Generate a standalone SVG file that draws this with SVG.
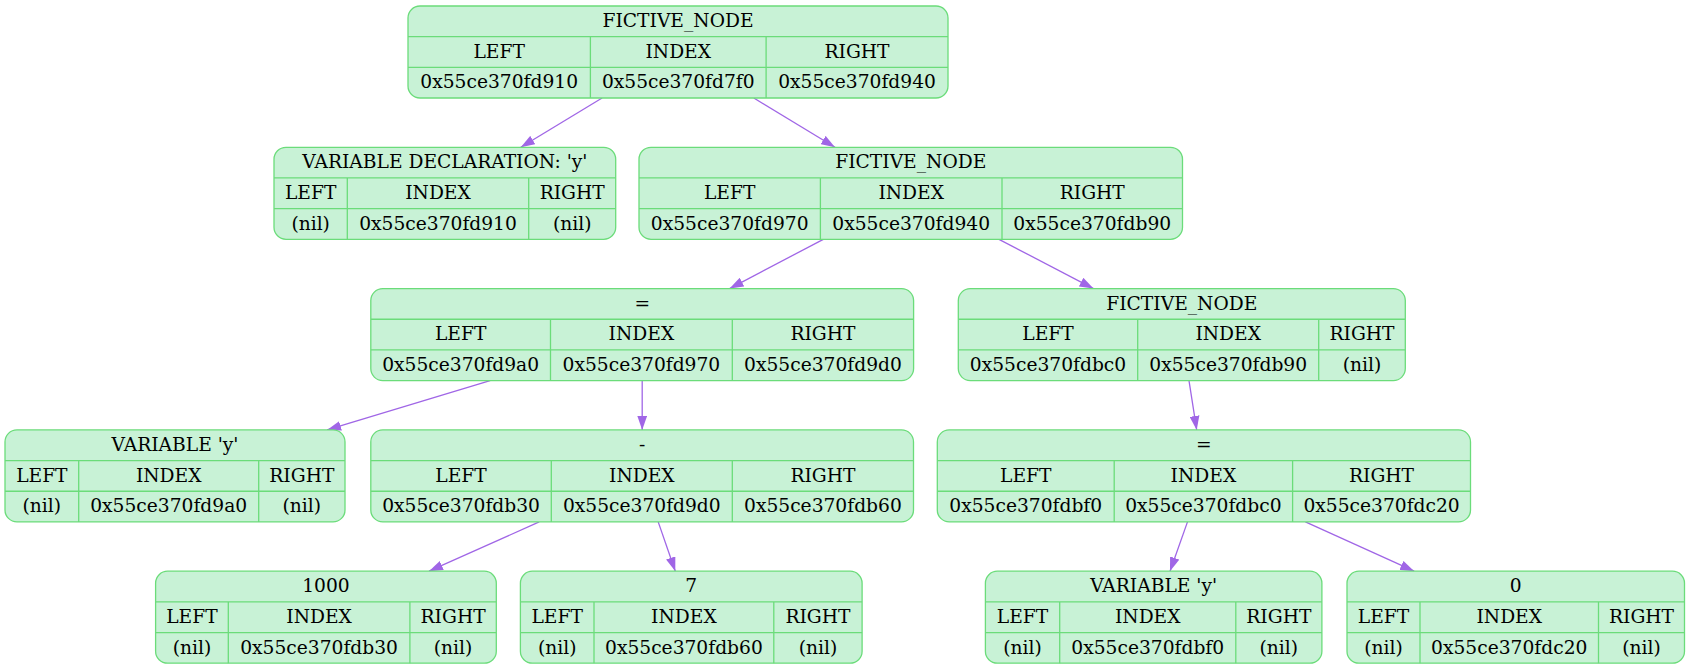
<svg xmlns="http://www.w3.org/2000/svg" width="1690" height="669" viewBox="0 0 1690 669">
<style>
.node rect{fill:#c8f2d6;stroke:#6bdc7a;stroke-width:1.3}
.node path{fill:none;stroke:#6bdc7a;stroke-width:1.3}
.node text{font-family:"DejaVu Serif","Liberation Serif",serif;font-size:18.67px;fill:#000;text-anchor:middle}
.edges line{stroke:#a066e6;stroke-width:1.3;fill:none}
</style>
<defs>
<marker id="ah" markerUnits="userSpaceOnUse" markerWidth="14" markerHeight="10" viewBox="0 0 13.33 9.33" refX="13.33" refY="4.67" orient="auto">
<path d="M0,0L13.33,4.67L0,9.33z" fill="#a066e6"/>
</marker>
</defs>
<rect width="1690" height="669" fill="#ffffff"/>
<g id="edges" class="edges" marker-end="url(#ah)">
<line x1="602.1" y1="98" x2="520.8" y2="147.3" marker-end="url(#ah)"/>
<line x1="753.8" y1="98" x2="835" y2="147.3" marker-end="url(#ah)"/>
<line x1="823.3" y1="239.3" x2="729.6" y2="288.6" marker-end="url(#ah)"/>
<line x1="999" y1="239.3" x2="1093.5" y2="288.6" marker-end="url(#ah)"/>
<line x1="490.1" y1="380.6" x2="327.1" y2="429.9" marker-end="url(#ah)"/>
<line x1="642.2" y1="380.6" x2="642.2" y2="429.9" marker-end="url(#ah)"/>
<line x1="1189" y1="380.6" x2="1196.7" y2="429.9" marker-end="url(#ah)"/>
<line x1="539.2" y1="521.9" x2="429" y2="571.2" marker-end="url(#ah)"/>
<line x1="658.2" y1="521.9" x2="675.3" y2="571.2" marker-end="url(#ah)"/>
<line x1="1187.5" y1="521.9" x2="1170" y2="571.2" marker-end="url(#ah)"/>
<line x1="1305.4" y1="521.9" x2="1414.2" y2="571.2" marker-end="url(#ah)"/>
</g>
<g id="n1" class="node">
<rect x="408" y="6" width="540" height="92" rx="12"/>
<path d="M408,36.67H948M408,67.33H948M590.4,36.67V98M766.1,36.67V98"/>
<text x="678" y="27">FICTIVE_NODE</text>
<text x="499.2" y="57.7">LEFT</text><text x="678.25" y="57.7">INDEX</text><text x="857.05" y="57.7">RIGHT</text>
<text x="499.2" y="88.3">0x55ce370fd910</text><text x="678.25" y="88.3">0x55ce370fd7f0</text><text x="857.05" y="88.3">0x55ce370fd940</text>
</g>
<g id="n2" class="node">
<rect x="274" y="147.3" width="341.7" height="92" rx="12"/>
<path d="M274,177.97H615.7M274,208.63H615.7M347.3,177.97V239.3M528.7,177.97V239.3"/>
<text x="444.85" y="168.3">VARIABLE DECLARATION: 'y'</text>
<text x="310.65" y="199">LEFT</text><text x="438" y="199">INDEX</text><text x="572.2" y="199">RIGHT</text>
<text x="310.65" y="229.6">(nil)</text><text x="438" y="229.6">0x55ce370fd910</text><text x="572.2" y="229.6">(nil)</text>
</g>
<g id="n3" class="node">
<rect x="639" y="147.3" width="543.5" height="92" rx="12"/>
<path d="M639,177.97H1182.5M639,208.63H1182.5M820.4,177.97V239.3M1002,177.97V239.3"/>
<text x="910.75" y="168.3">FICTIVE_NODE</text>
<text x="729.7" y="199">LEFT</text><text x="911.2" y="199">INDEX</text><text x="1092.25" y="199">RIGHT</text>
<text x="729.7" y="229.6">0x55ce370fd970</text><text x="911.2" y="229.6">0x55ce370fd940</text><text x="1092.25" y="229.6">0x55ce370fdb90</text>
</g>
<g id="n4" class="node">
<rect x="370.8" y="288.6" width="542.8" height="92" rx="12"/>
<path d="M370.8,319.27H913.6M370.8,349.93H913.6M550.5,319.27V380.6M732.3,319.27V380.6"/>
<text x="642.2" y="309.6">=</text>
<text x="460.65" y="340.3">LEFT</text><text x="641.4" y="340.3">INDEX</text><text x="822.95" y="340.3">RIGHT</text>
<text x="460.65" y="370.9">0x55ce370fd9a0</text><text x="641.4" y="370.9">0x55ce370fd970</text><text x="822.95" y="370.9">0x55ce370fd9d0</text>
</g>
<g id="n5" class="node">
<rect x="958.3" y="288.6" width="447" height="92" rx="12"/>
<path d="M958.3,319.27H1405.3M958.3,349.93H1405.3M1137.7,319.27V380.6M1318.7,319.27V380.6"/>
<text x="1181.8" y="309.6">FICTIVE_NODE</text>
<text x="1048" y="340.3">LEFT</text><text x="1228.2" y="340.3">INDEX</text><text x="1362" y="340.3">RIGHT</text>
<text x="1048" y="370.9">0x55ce370fdbc0</text><text x="1228.2" y="370.9">0x55ce370fdb90</text><text x="1362" y="370.9">(nil)</text>
</g>
<g id="n6" class="node">
<rect x="5" y="429.9" width="340" height="92" rx="12"/>
<path d="M5,460.57H345M5,491.23H345M78.7,460.57V521.9M258.7,460.57V521.9"/>
<text x="175" y="450.9">VARIABLE 'y'</text>
<text x="41.85" y="481.6">LEFT</text><text x="168.7" y="481.6">INDEX</text><text x="301.85" y="481.6">RIGHT</text>
<text x="41.85" y="512.2">(nil)</text><text x="168.7" y="512.2">0x55ce370fd9a0</text><text x="301.85" y="512.2">(nil)</text>
</g>
<g id="n7" class="node">
<rect x="370.8" y="429.9" width="542.7" height="92" rx="12"/>
<path d="M370.8,460.57H913.5M370.8,491.23H913.5M551.3,460.57V521.9M732.3,460.57V521.9"/>
<text x="642.15" y="450.9">-</text>
<text x="461.05" y="481.6">LEFT</text><text x="641.8" y="481.6">INDEX</text><text x="822.9" y="481.6">RIGHT</text>
<text x="461.05" y="512.2">0x55ce370fdb30</text><text x="641.8" y="512.2">0x55ce370fd9d0</text><text x="822.9" y="512.2">0x55ce370fdb60</text>
</g>
<g id="n8" class="node">
<rect x="937.3" y="429.9" width="533.2" height="92" rx="12"/>
<path d="M937.3,460.57H1470.5M937.3,491.23H1470.5M1114.2,460.57V521.9M1292.6,460.57V521.9"/>
<text x="1203.9" y="450.9">=</text>
<text x="1025.75" y="481.6">LEFT</text><text x="1203.4" y="481.6">INDEX</text><text x="1381.55" y="481.6">RIGHT</text>
<text x="1025.75" y="512.2">0x55ce370fdbf0</text><text x="1203.4" y="512.2">0x55ce370fdbc0</text><text x="1381.55" y="512.2">0x55ce370fdc20</text>
</g>
<g id="n9" class="node">
<rect x="155.6" y="571.2" width="340.7" height="92" rx="12"/>
<path d="M155.6,601.87H496.3M155.6,632.53H496.3M228.3,601.87V663.2M409.9,601.87V663.2"/>
<text x="325.95" y="592.2">1000</text>
<text x="191.95" y="622.9">LEFT</text><text x="319.1" y="622.9">INDEX</text><text x="453.1" y="622.9">RIGHT</text>
<text x="191.95" y="653.5">(nil)</text><text x="319.1" y="653.5">0x55ce370fdb30</text><text x="453.1" y="653.5">(nil)</text>
</g>
<g id="n10" class="node">
<rect x="520.4" y="571.2" width="341.7" height="92" rx="12"/>
<path d="M520.4,601.87H862.1M520.4,632.53H862.1M594,601.87V663.2M773.8,601.87V663.2"/>
<text x="691.25" y="592.2">7</text>
<text x="557.2" y="622.9">LEFT</text><text x="683.9" y="622.9">INDEX</text><text x="817.95" y="622.9">RIGHT</text>
<text x="557.2" y="653.5">(nil)</text><text x="683.9" y="653.5">0x55ce370fdb60</text><text x="817.95" y="653.5">(nil)</text>
</g>
<g id="n11" class="node">
<rect x="985.4" y="571.2" width="336.5" height="92" rx="12"/>
<path d="M985.4,601.87H1321.9M985.4,632.53H1321.9M1059.7,601.87V663.2M1235.8,601.87V663.2"/>
<text x="1153.65" y="592.2">VARIABLE 'y'</text>
<text x="1022.55" y="622.9">LEFT</text><text x="1147.75" y="622.9">INDEX</text><text x="1278.85" y="622.9">RIGHT</text>
<text x="1022.55" y="653.5">(nil)</text><text x="1147.75" y="653.5">0x55ce370fdbf0</text><text x="1278.85" y="653.5">(nil)</text>
</g>
<g id="n12" class="node">
<rect x="1347" y="571.2" width="337.5" height="92" rx="12"/>
<path d="M1347,601.87H1684.5M1347,632.53H1684.5M1420,601.87V663.2M1598.5,601.87V663.2"/>
<text x="1515.75" y="592.2">0</text>
<text x="1383.5" y="622.9">LEFT</text><text x="1509.25" y="622.9">INDEX</text><text x="1641.5" y="622.9">RIGHT</text>
<text x="1383.5" y="653.5">(nil)</text><text x="1509.25" y="653.5">0x55ce370fdc20</text><text x="1641.5" y="653.5">(nil)</text>
</g>
</svg>
